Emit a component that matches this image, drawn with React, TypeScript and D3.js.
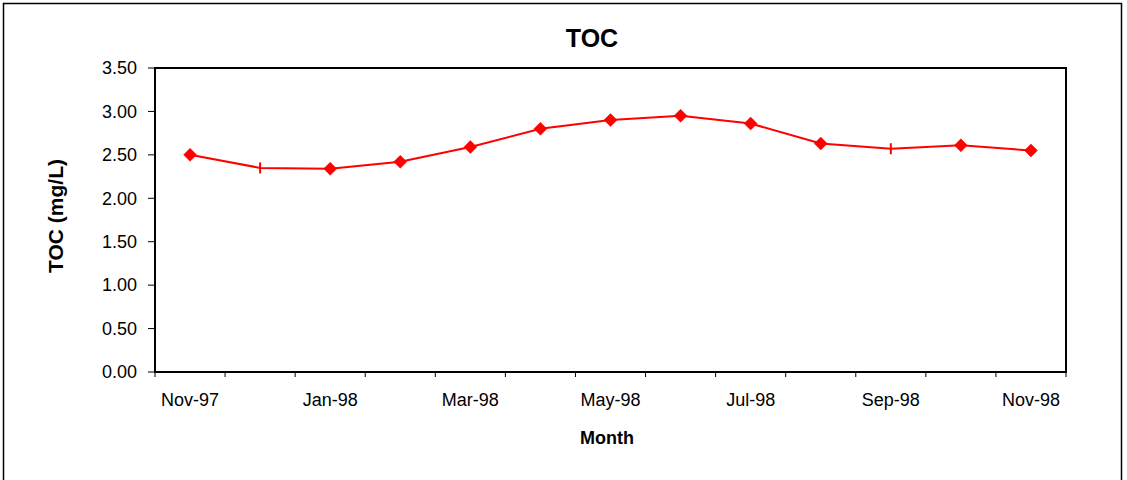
import React from "react";
import * as d3 from "d3";

const months = ["Nov-97","Dec-97","Jan-98","Feb-98","Mar-98","Apr-98","May-98","Jun-98","Jul-98","Aug-98","Sep-98","Oct-98","Nov-98"];
const tocValues = [2.50, 2.35, 2.34, 2.42, 2.59, 2.80, 2.90, 2.95, 2.86, 2.63, 2.57, 2.61, 2.55];
const markerKinds = ["diamond","dash","diamond","diamond","diamond","diamond","diamond","diamond","diamond","diamond","dash","diamond","diamond"];
const yTicks = [0, 0.5, 1.0, 1.5, 2.0, 2.5, 3.0, 3.5];
const labelledMonths = ["Nov-97","Jan-98","Mar-98","May-98","Jul-98","Sep-98","Nov-98"];
const title = "TOC";
const xTitle = "Month";
const yTitle = "TOC (mg/L)";

const W = 1127, H = 480;
const left = 155, right = 1066, top = 68, bottom = 372;
const FONT = "Arial, 'Liberation Sans', sans-serif";
const RED = "#ff0000";

export default function App() {
  const x = d3.scaleBand<string>().domain(months).range([left, right]).padding(0);
  const y = d3.scaleLinear().domain([0, 3.5]).range([bottom, top]);
  const cx = (m: string) => (x(m) as number) + x.bandwidth() / 2;
  const line = d3.line<number>().x((_, i) => cx(months[i])).y(v => y(v));
  const fmt = d3.format(".2f");
  const boundaries = d3.range(months.length + 1).map(i => left + i * x.bandwidth());
  const diamond = (px: number, py: number, r: number) => `M${px},${py - r}L${px + r},${py}L${px},${py + r}L${px - r},${py}Z`;

  return (
    <svg width={W} height={H} style={{ position: "absolute", left: 0, top: 0, background: "#fff" }} fontFamily={FONT}>
      <rect x={0} y={0} width={W} height={H} fill="#fff" />
      <rect x={3.5} y={3.5} width={1118} height={490} fill="none" stroke="#000" strokeWidth={1.5} />
      <text x={592} y={47} textAnchor="middle" fontSize={25} fontWeight="bold">{title}</text>
      <rect x={left} y={top} width={right - left} height={bottom - top} fill="none" stroke="#000" strokeWidth={2} />
      {yTicks.map(t => (
        <g key={t}>
          <line x1={left - 7} x2={left} y1={y(t)} y2={y(t)} stroke="#000" strokeWidth={1} />
          <text x={137} y={y(t)} dy="0.35em" textAnchor="end" fontSize={18}>{fmt(t)}</text>
        </g>
      ))}
      {boundaries.map((b, i) => (
        <line key={i} x1={b} x2={b} y1={bottom} y2={bottom + 5} stroke="#000" strokeWidth={1} />
      ))}
      {labelledMonths.map(m => (
        <text key={m} x={cx(m)} y={406} textAnchor="middle" fontSize={18}>{m}</text>
      ))}
      <text x={607} y={444} textAnchor="middle" fontSize={18} fontWeight="bold">{xTitle}</text>
      <text transform={`translate(63,216) rotate(-90)`} textAnchor="middle" fontSize={21} fontWeight="bold">{yTitle}</text>
      <path d={line(tocValues) || ""} fill="none" stroke={RED} strokeWidth={2} />
      {tocValues.map((v, i) => markerKinds[i] === "diamond" ? (
        <path key={i} d={diamond(cx(months[i]), y(v), 6.5)} fill={RED} stroke={RED} strokeWidth={0.5} />
      ) : (
        <line key={i} x1={cx(months[i])} x2={cx(months[i])} y1={y(v) - 5.5} y2={y(v) + 5.5} stroke={RED} strokeWidth={2} />
      ))}
    </svg>
  );
}
